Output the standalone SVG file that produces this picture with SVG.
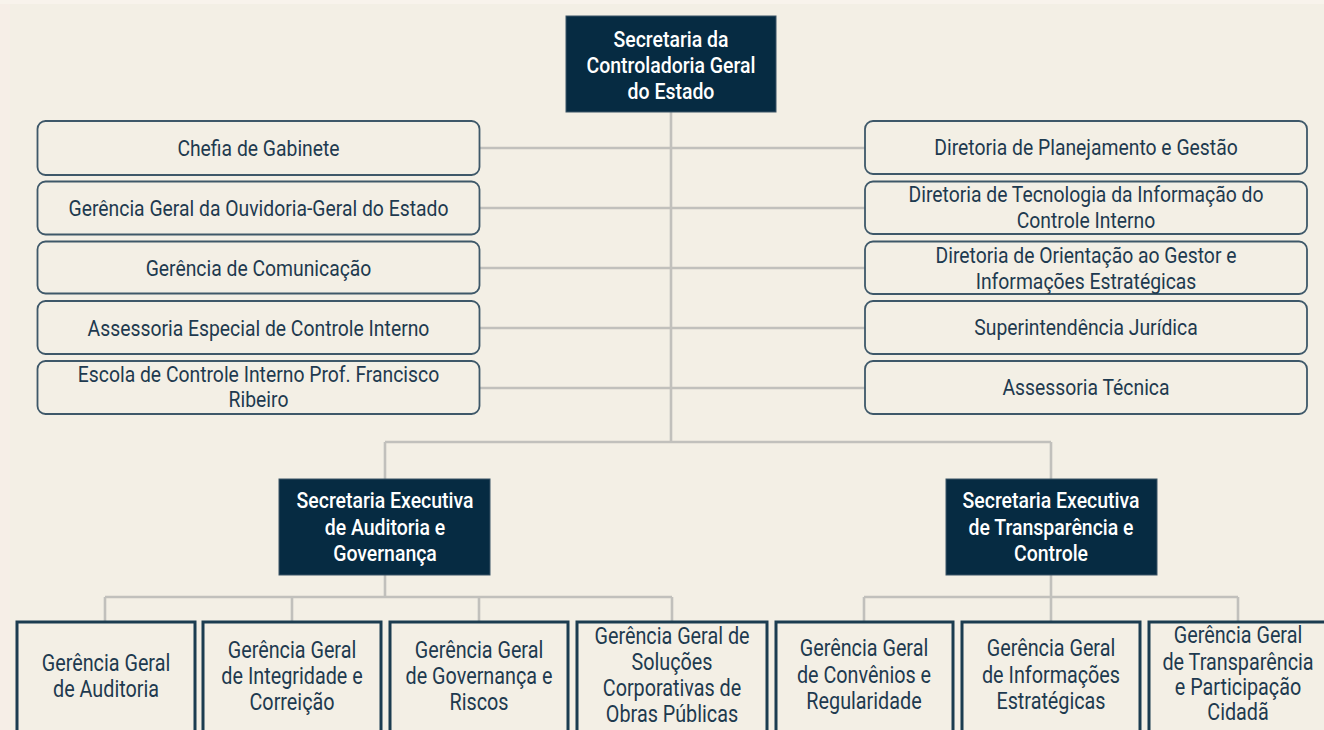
<svg xmlns="http://www.w3.org/2000/svg" width="1324" height="730" viewBox="0 0 1324 730">
<style>
.bg{fill:#F3EFE5}
.dark{fill:#062B42;stroke:#3A5466;stroke-width:1}
.light{fill:#F3EFE5;stroke:#3E5869;stroke-width:1.8}
.leaf{fill:#F3EFE5;stroke:#1B3C50;stroke-width:3}
.c{stroke:#C1C0BC;stroke-width:2.6;fill:none}
text{font-family:Roboto,"Liberation Sans",sans-serif;text-anchor:middle}
.tw{fill:#FFFFFF;font-size:22.5px;font-weight:500}
.td{fill:#1E3A4F;font-size:22.5px}
.tb{fill:#1E3A4F;font-size:23px}
</style>
<rect class="bg" x="0" y="0" width="1324" height="730"/>
<rect x="0" y="0" width="10" height="730" fill="#F6EEE7"/>
<rect x="0" y="0" width="1324" height="4" fill="#F8F3EC"/>
<g id="connectors">
<path class="c" d="M671 112V442"/>
<path class="c" d="M480 148H865M480 208H865M480 268H865M480 328H865M480 388H865"/>
<path class="c" d="M385 442H1051M385 442V479M1051 442V479"/>
<path class="c" d="M385 575V597M105 597H672M105 597V621M292 597V621M479 597V621M672 597V621"/>
<path class="c" d="M1051 575V621M864 597H1238M864 597V621M1238 597V621"/>
</g>
<g id="n-secretaria">
<rect class="dark" x="566" y="16" width="210" height="96"/>
<text class="tw" transform="translate(671 0) scale(0.865 1)"><tspan x="0" y="47">Secretaria da</tspan><tspan x="0" y="73">Controladoria Geral</tspan><tspan x="0" y="99">do Estado</tspan></text>
</g>
<g id="n-chefia">
<rect class="light" x="37.5" y="121" width="442" height="54" rx="8"/>
<text class="td" transform="translate(258.5 0) scale(0.86 1)" x="0" y="156">Chefia de Gabinete</text>
</g>
<g id="n-ouvidoria">
<rect class="light" x="37.5" y="181.5" width="442" height="53" rx="8"/>
<text class="td" transform="translate(258.5 0) scale(0.86 1)" x="0" y="216">Gerência Geral da Ouvidoria-Geral do Estado</text>
</g>
<g id="n-comunicacao">
<rect class="light" x="37.5" y="241.5" width="442" height="52" rx="8"/>
<text class="td" transform="translate(258.5 0) scale(0.86 1)" x="0" y="276">Gerência de Comunicação</text>
</g>
<g id="n-assessoria-especial">
<rect class="light" x="37.5" y="301" width="442" height="53" rx="8"/>
<text class="td" transform="translate(258.5 0) scale(0.86 1)" x="0" y="336">Assessoria Especial de Controle Interno</text>
</g>
<g id="n-escola">
<rect class="light" x="37.5" y="361" width="442" height="53" rx="8"/>
<text class="td" transform="translate(258.5 0) scale(0.86 1)"><tspan x="0" y="382">Escola de Controle Interno Prof. Francisco</tspan><tspan x="0" y="407">Ribeiro</tspan></text>
</g>
<g id="n-planejamento">
<rect class="light" x="865" y="121" width="442" height="53" rx="8"/>
<text class="td" transform="translate(1086 0) scale(0.86 1)" x="0" y="155">Diretoria de Planejamento e Gestão</text>
</g>
<g id="n-tecnologia">
<rect class="light" x="865" y="181.5" width="442" height="52.5" rx="8"/>
<text class="td" transform="translate(1086 0) scale(0.86 1)"><tspan x="0" y="202">Diretoria de Tecnologia da Informação do</tspan><tspan x="0" y="228">Controle Interno</tspan></text>
</g>
<g id="n-orientacao">
<rect class="light" x="865" y="241.5" width="442" height="52.5" rx="8"/>
<text class="td" transform="translate(1086 0) scale(0.86 1)"><tspan x="0" y="263">Diretoria de Orientação ao Gestor e</tspan><tspan x="0" y="289">Informações Estratégicas</tspan></text>
</g>
<g id="n-juridica">
<rect class="light" x="865" y="301" width="442" height="53" rx="8"/>
<text class="td" transform="translate(1086 0) scale(0.86 1)" x="0" y="335">Superintendência Jurídica</text>
</g>
<g id="n-tecnica">
<rect class="light" x="865" y="361" width="442" height="53" rx="8"/>
<text class="td" transform="translate(1086 0) scale(0.86 1)" x="0" y="395">Assessoria Técnica</text>
</g>
<g id="n-se-auditoria">
<rect class="dark" x="279" y="479" width="211" height="96"/>
<text class="tw" transform="translate(385 0) scale(0.865 1)"><tspan x="0" y="508">Secretaria Executiva</tspan><tspan x="0" y="535">de Auditoria e</tspan><tspan x="0" y="561">Governança</tspan></text>
</g>
<g id="n-se-transparencia">
<rect class="dark" x="946" y="479" width="211" height="96"/>
<text class="tw" transform="translate(1051 0) scale(0.865 1)"><tspan x="0" y="508">Secretaria Executiva</tspan><tspan x="0" y="535">de Transparência e</tspan><tspan x="0" y="561">Controle</tspan></text>
</g>
<g id="n-auditoria">
<rect class="leaf" x="17" y="622" width="178" height="130"/>
<text class="tb" transform="translate(106 0) scale(0.86 1)"><tspan x="0" y="671">Gerência Geral</tspan><tspan x="0" y="697">de Auditoria</tspan></text>
</g>
<g id="n-integridade">
<rect class="leaf" x="203" y="622" width="178" height="130"/>
<text class="tb" transform="translate(292 0) scale(0.86 1)"><tspan x="0" y="658">Gerência Geral</tspan><tspan x="0" y="684">de Integridade e</tspan><tspan x="0" y="710">Correição</tspan></text>
</g>
<g id="n-governanca">
<rect class="leaf" x="390" y="622" width="178" height="130"/>
<text class="tb" transform="translate(479 0) scale(0.86 1)"><tspan x="0" y="658">Gerência Geral</tspan><tspan x="0" y="684">de Governança e</tspan><tspan x="0" y="710">Riscos</tspan></text>
</g>
<g id="n-obras">
<rect class="leaf" x="577" y="622" width="190" height="130"/>
<text class="tb" transform="translate(672 0) scale(0.86 1)"><tspan x="0" y="644">Gerência Geral de</tspan><tspan x="0" y="670">Soluções</tspan><tspan x="0" y="696">Corporativas de</tspan><tspan x="0" y="722">Obras Públicas</tspan></text>
</g>
<g id="n-convenios">
<rect class="leaf" x="776" y="622" width="177" height="130"/>
<text class="tb" transform="translate(864 0) scale(0.86 1)"><tspan x="0" y="656">Gerência Geral</tspan><tspan x="0" y="683">de Convênios e</tspan><tspan x="0" y="709">Regularidade</tspan></text>
</g>
<g id="n-informacoes">
<rect class="leaf" x="962" y="622" width="178" height="130"/>
<text class="tb" transform="translate(1051 0) scale(0.86 1)"><tspan x="0" y="656">Gerência Geral</tspan><tspan x="0" y="683">de Informações</tspan><tspan x="0" y="709">Estratégicas</tspan></text>
</g>
<g id="n-transparencia">
<rect class="leaf" x="1149" y="622" width="180" height="130"/>
<text class="tb" transform="translate(1238 0) scale(0.86 1)"><tspan x="0" y="643">Gerência Geral</tspan><tspan x="0" y="670">de Transparência</tspan><tspan x="0" y="695">e Participação</tspan><tspan x="0" y="720">Cidadã</tspan></text>
</g>
</svg>
